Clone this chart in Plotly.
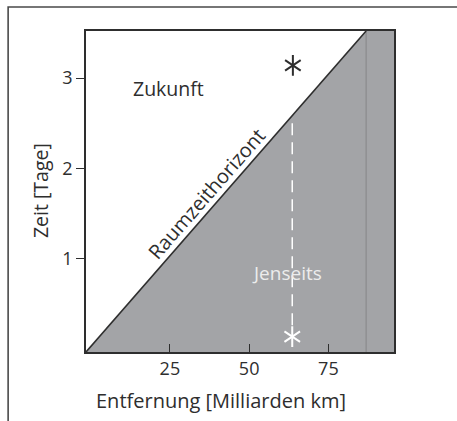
import plotly.graph_objects as go

# --- data ---
x_range = [-1.46, 95.7]
y_range = [-0.03, 3.52]
horizon_x = [-1.46, 86.9]          # Raumzeithorizont (light cone edge)
horizon_y = [-0.03, 3.52]
edge_x = 86.9                       # vertical boundary line
x_ticks = [25, 50, 75]
y_ticks = [1, 2, 3]
event_future = (63.8, 3.14)         # black asterisk
event_beyond = (63.6, 0.14)         # white asterisk
worldline_x = [63.6, 63.6]
worldline_y = [2.50, 0.25]
labels = {
    "Zukunft": (24.7, 2.88),
    "Jenseits": (62.0, 0.84),
    "Raumzeithorizont": (36.6, 1.72),
}

FONT = "Open Sans"
shade = "#a3a4a7"
ink = "#2e2e2e"

L, T = 86, 31
PW, PH = 308.5, 321

fig = go.Figure()

fig.add_trace(go.Scatter(
    x=[horizon_x[0], horizon_x[1], x_range[1], x_range[1], horizon_x[0]],
    y=[horizon_y[0], horizon_y[1], y_range[1], y_range[0], horizon_y[0]],
    fill="toself", fillcolor=shade, mode="none", hoverinfo="skip", showlegend=False))

fig.add_trace(go.Scatter(x=[edge_x, edge_x], y=y_range, mode="lines",
                         line=dict(color="#858588", width=1), showlegend=False))

fig.add_trace(go.Scatter(x=horizon_x, y=horizon_y, mode="lines",
                         line=dict(color=ink, width=1.6), showlegend=False))

fig.add_trace(go.Scatter(x=worldline_x, y=worldline_y, mode="lines",
                         line=dict(color="white", width=1.5, dash="12px,7px"),
                         showlegend=False))

for (px, py), col in [(event_future, ink), (event_beyond, "white")]:
    for sym in ["y-up-open", "y-down-open"]:
        fig.add_trace(go.Scatter(x=[px], y=[py], mode="markers",
                                 marker=dict(symbol=sym, size=13, color=col,
                                             line=dict(color=col, width=2.0)),
                                 showlegend=False))

fig.add_annotation(x=labels["Zukunft"][0], y=labels["Zukunft"][1], text="Zukunft",
                   showarrow=False, font=dict(family=FONT, size=19.5, color=ink))
fig.add_annotation(x=labels["Jenseits"][0], y=labels["Jenseits"][1], text="Jenseits",
                   showarrow=False, font=dict(family=FONT, size=19, color="#ececec"))
fig.add_annotation(x=labels["Raumzeithorizont"][0], y=labels["Raumzeithorizont"][1],
                   text="Raumzeithorizont", textangle=-48.8,
                   showarrow=False, font=dict(family=FONT, size=20, color=ink))

# axis titles (positioned as in the reference)
fig.add_annotation(xref="paper", yref="paper", x=(221 - L) / PW, y=(352 - 400) / PH,
                   text="Entfernung [Milliarden km]", showarrow=False,
                   xanchor="center", yanchor="middle",
                   font=dict(family=FONT, size=20, color=ink))
fig.add_annotation(xref="paper", yref="paper", x=(40 - L) / PW, y=(352 - 191) / PH,
                   text="Zeit [Tage]", showarrow=False, textangle=-90,
                   xanchor="center", yanchor="middle",
                   font=dict(family=FONT, size=19.5, color=ink))

# outer frame: top and left edges inside the page, right/bottom outside
fig.add_shape(type="rect", xref="paper", yref="paper",
              x0=(8 - L) / PW, x1=(480 - L) / PW,
              y0=(352 - 440) / PH, y1=(352 - 7) / PH,
              line=dict(color="#4a4a4a", width=1.6), layer="above")

fig.update_xaxes(range=x_range, tickvals=x_ticks, ticktext=[str(t) for t in x_ticks],
                 ticks="inside", ticklen=8, tickwidth=1.3, tickcolor=ink,
                 showline=True, linecolor=ink, linewidth=1.5, mirror=True,
                 showgrid=False, zeroline=False,
                 tickfont=dict(family=FONT, size=18, color=ink))
fig.update_yaxes(range=y_range, tickvals=y_ticks, ticktext=[str(t) for t in y_ticks],
                 ticks="outside", ticklen=8, tickwidth=1.3, tickcolor=ink,
                 showline=True, linecolor=ink, linewidth=1.5, mirror=True,
                 showgrid=False, zeroline=False,
                 tickfont=dict(family=FONT, size=18, color=ink))

fig.update_layout(width=457, height=421,
                  margin=dict(l=L, r=457 - L - PW, t=T, b=421 - T - PH),
                  plot_bgcolor="white", paper_bgcolor="white",
                  showlegend=False)

fig.write_html("out.html", config={"displayModeBar": False},
               post_script="document.body.style.margin='0';document.body.style.overflow='hidden';")
